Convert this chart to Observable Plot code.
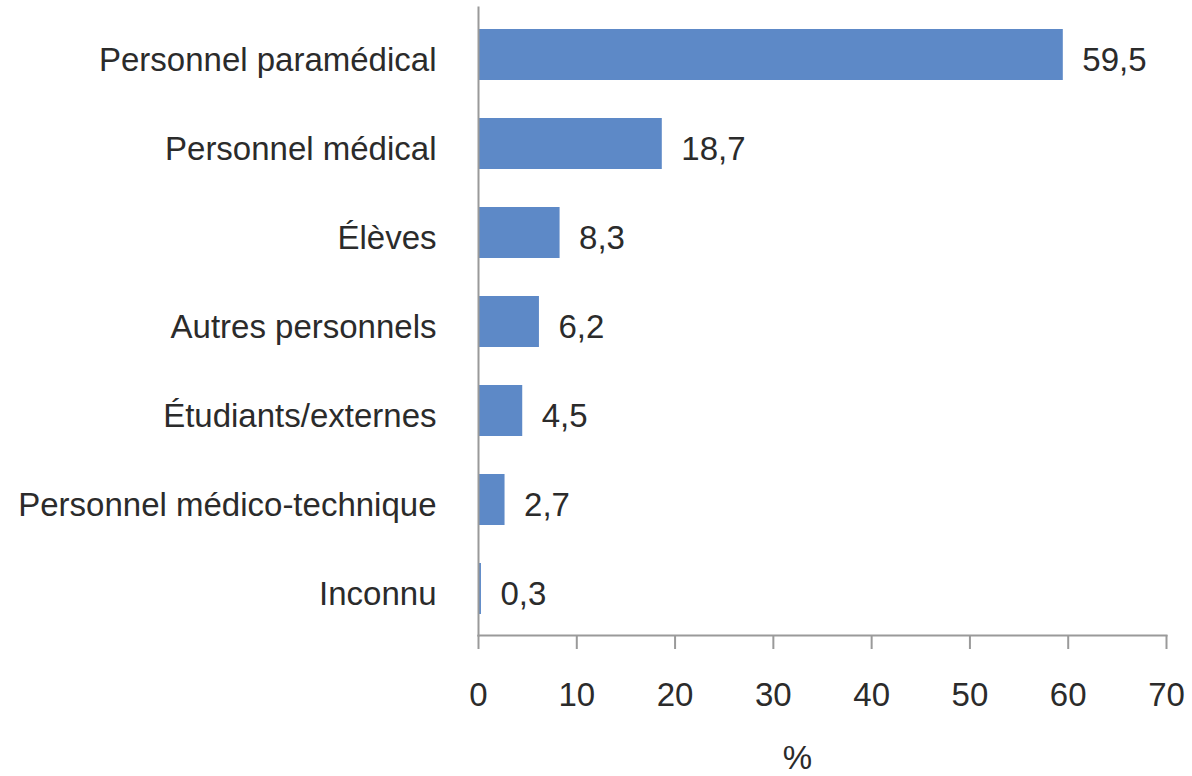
<!DOCTYPE html>
<html>
<head>
<meta charset="utf-8">
<script src="https://cdn.jsdelivr.net/npm/d3@7"></script>
<script src="https://cdn.jsdelivr.net/npm/@observablehq/plot@0.6"></script>
<style>
  html, body { margin: 0; padding: 0; background: #fff; }
  #chart svg { display: block; }
</style>
</head>
<body>
<div id="chart"></div>
<script>
// Répartition des catégories professionnelles (%)
const categories = [
  "Personnel paramédical",
  "Personnel médical",
  "Élèves",
  "Autres personnels",
  "Étudiants/externes",
  "Personnel médico-technique",
  "Inconnu"
];
const values = [59.5, 18.7, 8.3, 6.2, 4.5, 2.7, 0.3];
const xTicks = [0, 10, 20, 30, 40, 50, 60, 70];
const xLabel = "%";

const rows = categories.map((c, i) => ({category: c, value: values[i]}));
const fmt = v => v.toFixed(1).replace(".", ",");

const textColor = "#2b2b2b";
const axisColor = "#9a9a9a";
const fs = 33;

const chart = Plot.plot({
  width: 1192,
  height: 776,
  marginTop: 7,
  marginBottom: 141,
  marginLeft: 478,
  marginRight: 26,
  style: {fontFamily: "'Liberation Sans', Arial, Helvetica, sans-serif", fontSize: fs + "px", color: textColor, background: "#fff"},
  x: {domain: [0, 70], ticks: xTicks},
  y: {domain: categories, paddingInner: 0.43, paddingOuter: 0.215},
  marks: [
    Plot.barX(rows, {x: "value", y: "category", fill: "#5d89c7"}),
    Plot.text(rows, {
      x: "value", y: "category", text: d => fmt(d.value),
      textAnchor: "start", dx: 19, dy: 5, fill: textColor, fontSize: fs
    }),
    Plot.axisY({tickSize: 0, tickPadding: 42, dy: 5, label: null, fontSize: fs, fill: textColor}),
    Plot.axisX({
      ticks: xTicks, tickSize: 14, tickPadding: 33, stroke: axisColor, strokeWidth: 2,
      label: null, fontSize: fs, fill: textColor, tickFormat: d => String(d)
    }),
    Plot.frame({anchor: "left", stroke: axisColor, strokeWidth: 2}),
    Plot.frame({anchor: "bottom", stroke: axisColor, strokeWidth: 2}),
    Plot.text([xLabel], {frameAnchor: "bottom", dx: -25, dy: 133, lineAnchor: "bottom", fontSize: fs, fill: textColor})
  ]
});

document.getElementById("chart").appendChild(chart);
</script>
</body>
</html>
